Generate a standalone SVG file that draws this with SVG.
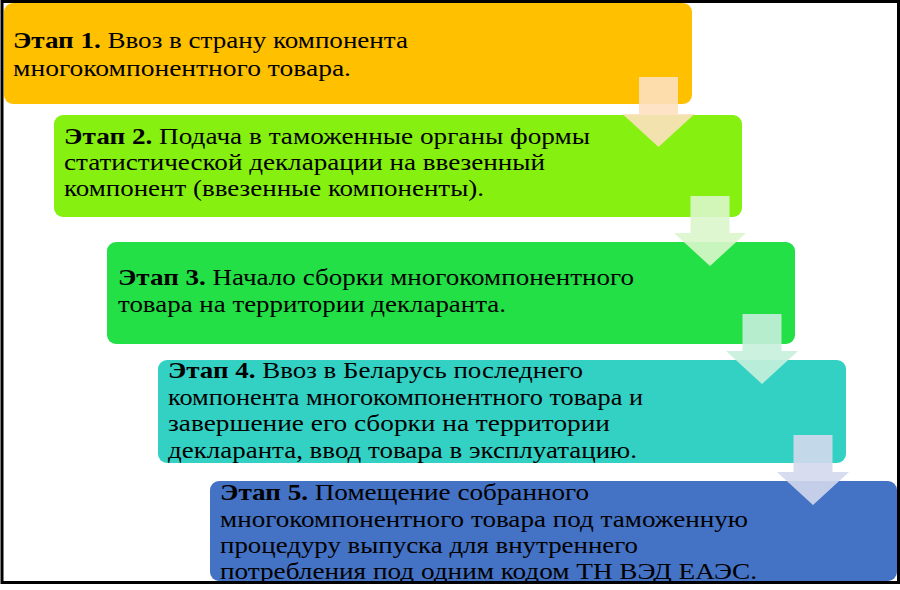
<svg xmlns="http://www.w3.org/2000/svg" width="900" height="590" viewBox="0 0 900 590">
<style>
.t{font-family:"Liberation Serif","Times New Roman",serif;font-size:24px;fill:#000}
.b{font-weight:bold}
.arr{opacity:0.9}
</style>
<defs>
<path id="arrow" d="M-19.5,0 H19.5 V37 H36 L0,70 L-36,37 H-19.5 Z"/>
</defs>
<rect x="0" y="0" width="900" height="590" fill="#fff"/>
<rect x="2" y="1.5" width="896.5" height="581" fill="none" stroke="#000" stroke-width="3"/>
<g id="step1"><rect x="4" y="3" width="688" height="101" rx="9" fill="#FFC000"/></g>
<g id="step2"><rect x="54" y="115" width="688" height="102" rx="9" fill="#86F011"/></g>
<g id="step3"><rect x="107" y="242" width="688" height="102" rx="9" fill="#23E047"/></g>
<g id="step4"><rect x="158" y="360" width="688" height="103" rx="9" fill="#33D1C4"/></g>
<g id="step5"><rect x="210" y="481" width="687" height="100" rx="9" fill="#4472C4"/></g>
<g id="connectors">
<use href="#arrow" class="arr" transform="translate(658.5,77)" fill="#FEE0C0"/>
<use href="#arrow" class="arr" transform="translate(710,196)" fill="#DAF6CB"/>
<use href="#arrow" class="arr" transform="translate(762,314)" fill="#C6F0DC"/>
<use href="#arrow" class="arr" transform="translate(813,435)" fill="#D3D8EC"/>
</g>
<g id="labels">
<text class="t" x="13" y="48" textLength="395" lengthAdjust="spacingAndGlyphs"><tspan class="b">Этап 1.</tspan> Ввоз в страну компонента</text>
<text class="t" x="13" y="76" textLength="338" lengthAdjust="spacingAndGlyphs">многокомпонентного товара.</text>

<text class="t" x="64" y="144" textLength="526" lengthAdjust="spacingAndGlyphs"><tspan class="b">Этап 2.</tspan> Подача в таможенные органы формы</text>
<text class="t" x="64" y="170" textLength="481" lengthAdjust="spacingAndGlyphs">статистической декларации на ввезенный</text>
<text class="t" x="64" y="196" textLength="420" lengthAdjust="spacingAndGlyphs">компонент (ввезенные компоненты).</text>

<text class="t" x="118" y="285" textLength="516" lengthAdjust="spacingAndGlyphs"><tspan class="b">Этап 3.</tspan> Начало сборки многокомпонентного</text>
<text class="t" x="118" y="312" textLength="388" lengthAdjust="spacingAndGlyphs">товара на территории декларанта.</text>

<text class="t" x="168" y="378" textLength="415" lengthAdjust="spacingAndGlyphs"><tspan class="b">Этап 4.</tspan> Ввоз в Беларусь последнего</text>
<text class="t" x="168" y="405" textLength="475" lengthAdjust="spacingAndGlyphs">компонента многокомпонентного товара и</text>
<text class="t" x="168" y="431" textLength="442" lengthAdjust="spacingAndGlyphs">завершение его сборки на территории</text>
<text class="t" x="168" y="458" textLength="469" lengthAdjust="spacingAndGlyphs">декларанта, ввод товара в эксплуатацию.</text>

<text class="t" x="220" y="500" textLength="369" lengthAdjust="spacingAndGlyphs"><tspan class="b">Этап 5.</tspan> Помещение собранного</text>
<text class="t" x="220" y="527" textLength="528" lengthAdjust="spacingAndGlyphs">многокомпонентного товара под таможенную</text>
<text class="t" x="220" y="553" textLength="418" lengthAdjust="spacingAndGlyphs">процедуру выпуска для внутреннего</text>
<text class="t" x="220" y="579" textLength="537" lengthAdjust="spacingAndGlyphs">потребления под одним кодом ТН ВЭД ЕАЭС.</text>
</g>
</svg>
